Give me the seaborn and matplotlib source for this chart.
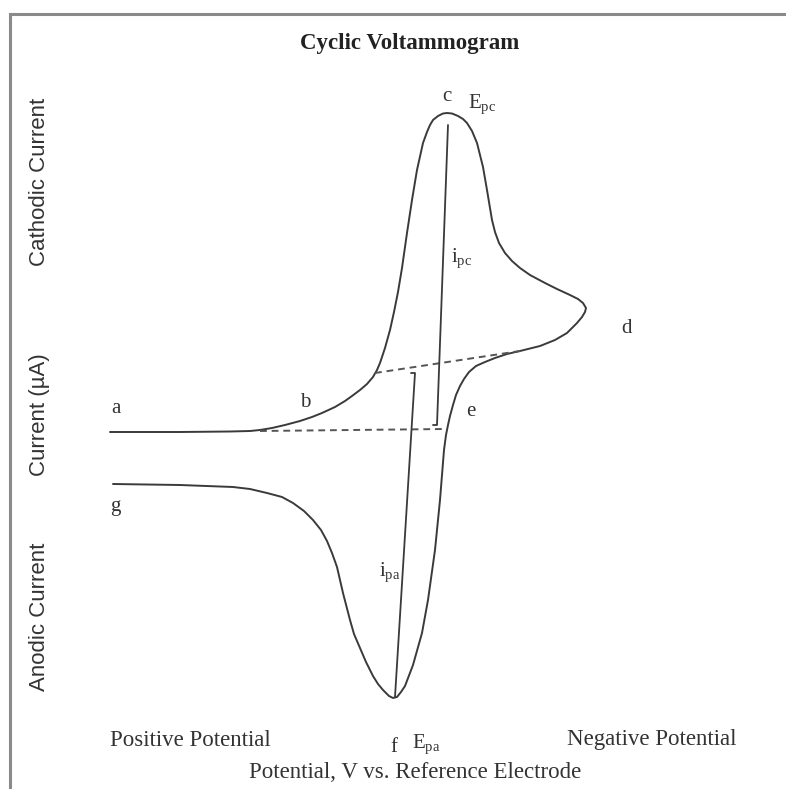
import numpy as np
import pandas as pd
import matplotlib
matplotlib.use("Agg")
import matplotlib.pyplot as plt
import seaborn as sns

# Cyclic voltammogram sketch
# (x = potential position, y = current position, both in picture units)

# full scan a -> b -> c -> d -> e -> f -> g
scan_x = [110, 180, 230, 250, 260, 272, 285, 300, 312, 322, 335, 345, 352, 360, 367,
          373, 377, 380, 385, 390, 394, 398, 402, 407, 412, 417, 423, 427, 430, 433,
          438, 443, 447, 452, 458, 463, 467, 472, 477, 483, 487, 492, 495, 499, 505,
          512, 520, 530, 545, 557, 570, 578, 583, 586, 585, 582, 577, 567, 555, 540,
          520, 507, 495, 485, 476, 469, 464, 460, 456, 453, 450, 448, 446, 444, 440,
          435, 428, 422, 413, 405, 401, 397, 393, 389, 383, 378, 373, 366, 360, 354,
          350, 343, 340, 337, 332, 327, 321, 313, 304, 293, 282, 267, 250, 233, 180, 113]
scan_y = [432, 432, 431.5, 431, 430, 428, 425, 421, 417, 413, 407, 401, 396, 390, 384,
          377, 370, 363, 348, 330, 312, 292, 268, 233, 200, 170, 143, 132, 125, 120,
          116, 113.5, 113, 113.5, 116, 119, 123, 131, 143, 167, 190, 220, 232, 243, 253,
          261, 268, 275, 283, 289, 295, 299, 303, 308, 312, 317, 323, 333, 340, 346,
          351, 354, 358, 362, 366, 372, 379, 386, 395, 405, 416, 425, 435, 450, 500,
          550, 600, 633, 665, 686, 692, 697, 698, 696, 690, 684, 676, 662, 648, 634,
          620, 593, 580, 567, 553, 541, 530, 520, 511, 503, 497, 493, 489, 487, 485, 484]

# baselines (dashed) used to measure peak currents
base_c_x = [375, 520]
base_c_y = [373, 351]
base_a_x = [260, 445]
base_a_y = [431, 429]

# peak current markers
ipc_x = [448, 437, 433]
ipc_y = [125, 425, 425]
ipa_x = [411, 415, 395]
ipa_y = [373, 373, 697]

# point labels
point_labels = ["a", "b", "c", "d", "e", "f", "g"]
point_x = [116, 305, 447, 626, 471, 394, 115]
point_y = [408, 402, 96, 328, 411, 748, 506]

sym_labels = [r"E$_{\mathrm{pc}}$", r"i$_{\mathrm{pc}}$", r"i$_{\mathrm{pa}}$", r"E$_{\mathrm{pa}}$"]
sym_x = [482, 462, 390, 426]
sym_y = [104, 258, 572, 744]

sns.set_theme(style="white")
plt.rcParams['font.family'] = ['Liberation Serif', 'DejaVu Serif']
plt.rcParams['mathtext.fontset'] = 'custom'
plt.rcParams['mathtext.rm'] = 'Liberation Serif'
plt.rcParams['mathtext.it'] = 'Liberation Serif:italic'

fig = plt.figure(figsize=(7.86, 7.89), dpi=100)
ax = fig.add_axes([0, 0, 1, 1])
ax.set_xlim(0, 786)
ax.set_ylim(789, 0)
ax.axis('off')

curve = pd.DataFrame({'x': scan_x, 'y': scan_y})
sns.lineplot(data=curve, x='x', y='y', sort=False, estimator=None, color='#3a3a3a', lw=1.4, ax=ax)

ax.plot(base_c_x, base_c_y, color='#555555', lw=1.4, ls=(0, (3.5, 2.5)))
ax.plot(base_a_x, base_a_y, color='#555555', lw=1.4, ls=(0, (3.5, 2.5)))
ax.plot(ipc_x, ipc_y, color='#3a3a3a', lw=1.3)
ax.plot(ipa_x, ipa_y, color='#3a3a3a', lw=1.3)

# frame of the original figure
ax.plot([10, 10, 786], [789, 14, 14], color='#8a8a8a', lw=2.2, solid_joinstyle='miter')

for lab, px, py in zip(point_labels, point_x, point_y):
    ax.text(px, py, lab, fontsize=15, color='#333333', ha='center', va='center')
for lab, px, py in zip(sym_labels, sym_x, sym_y):
    ax.text(px, py, lab, fontsize=15, color='#333333', ha='center', va='center')

ax.text(410, 43, 'Cyclic Voltammogram', fontsize=16.5, fontweight='bold', color='#222222',
        ha='center', va='center')
ax.text(190, 740, 'Positive Potential', fontsize=16.5, color='#333333', ha='center', va='center')
ax.text(652, 740, 'Negative Potential', fontsize=16.5, color='#333333', ha='center', va='center')
ax.text(415, 772, 'Potential, V vs. Reference Electrode', fontsize=16.5, color='#333333',
        ha='center', va='center')

sans = ['Liberation Sans', 'DejaVu Sans']
ax.text(40, 182, 'Cathodic Current', fontsize=16, color='#333333', rotation=90,
        ha='center', va='center', family=sans)
ax.text(40, 415, 'Current (\u00b5A)', fontsize=16, color='#333333', rotation=90,
        ha='center', va='center', family=sans)
ax.text(40, 617, 'Anodic Current', fontsize=16, color='#333333', rotation=90,
        ha='center', va='center', family=sans)

fig.savefig('out.png', dpi=100, facecolor='white')
